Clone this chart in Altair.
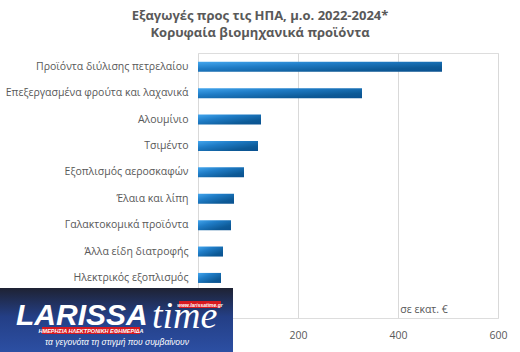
import altair as alt
import pandas as pd

products = [
    "Προϊόντα διύλισης πετρελαίου",
    "Επεξεργασμένα φρούτα και λαχανικά",
    "Αλουμίνιο",
    "Τσιμέντο",
    "Εξοπλισμός αεροσκαφών",
    "Έλαια και λίπη",
    "Γαλακτοκομικά προϊόντα",
    "Άλλα είδη διατροφής",
    "Ηλεκτρικός εξοπλισμός",
]
values = [488, 328, 126, 120, 92, 72, 66, 50, 46]
ticks = [0, 200, 400, 600]
title_lines = ["Εξαγωγές προς τις ΗΠΑ, μ.ο. 2022-2024*", "Κορυφαία βιομηχανικά προϊόντα"]
unit_label = "σε εκατ. €"

df = pd.DataFrame({"product": products, "value": values})

FONT = "Open Sans"
GREY = "#595959"

grad = alt.Gradient(
    gradient="linear",
    stops=[
        alt.GradientStop(color="#43a6ee", offset=0),
        alt.GradientStop(color="#1f7cc6", offset=0.35),
        alt.GradientStop(color="#0d5a97", offset=0.75),
        alt.GradientStop(color="#0a5190", offset=1),
    ],
    x1=0, y1=0, x2=1, y2=1,
)

base = alt.Chart(df)

bars = base.mark_bar(color=grad, cornerRadius=0).encode(
    x=alt.X(
        "value:Q",
        scale=alt.Scale(domain=[0, 600], nice=False),
        axis=alt.Axis(
            values=ticks, title=None, grid=True, gridColor="#d9d9d9", gridWidth=1,
            domain=False, ticks=False, labelFont=FONT, labelFontSize=10.5,
            labelColor=GREY, labelPadding=12, labelFlush=False,
            labelExpr="datum.value == 0 ? '' : datum.label",
        ),
    ),
    y=alt.Y(
        "product:N",
        sort=None,
        scale=alt.Scale(paddingInner=0.62, paddingOuter=0.83, align=0.2),
        axis=alt.Axis(
            title=None, domain=False, ticks=False, labelFont=FONT, labelFontSize=10.5,
            labelColor=GREY, labelPadding=10, labelLimit=300,
        ),
    ),
)

unit = alt.Chart(pd.DataFrame({"t": [unit_label]})).mark_text(
    font=FONT, fontSize=10.5, color=GREY, align="center", baseline="middle"
).encode(text="t:N", x=alt.value(226), y=alt.value(257))

# watermark logo overlay
logo_bg = alt.Chart(pd.DataFrame({"a": [0]})).mark_rect(
    color=alt.Gradient(
        gradient="linear",
        stops=[alt.GradientStop(color="#1e2233", offset=0),
               alt.GradientStop(color="#243f86", offset=0.45),
               alt.GradientStop(color="#2c4fa3", offset=1)],
        x1=0, y1=0, x2=0, y2=1,
    )
).encode(x=alt.value(-198), x2=alt.value(35), y=alt.value(235), y2=alt.value(299))

logo_red1 = alt.Chart(pd.DataFrame({"a": [0]})).mark_rect(color="#d71920").encode(
    x=alt.value(-156), x2=alt.value(-58), y=alt.value(274), y2=alt.value(281))
logo_red2 = alt.Chart(pd.DataFrame({"a": [0]})).mark_rect(color="#d71920").encode(
    x=alt.value(-19), x2=alt.value(23), y=alt.value(248), y2=alt.value(255))

logo_big = alt.Chart(pd.DataFrame({"t": ["LARISSA"]})).mark_text(
    font="Liberation Sans", fontSize=30, fontWeight="bold", fontStyle="italic",
    color="white", align="left", baseline="alphabetic"
).encode(text="t:N", x=alt.value(-182), y=alt.value(272))
logo_time = alt.Chart(pd.DataFrame({"t": ["time"]})).mark_text(
    font="Liberation Serif", fontSize=38, fontStyle="italic",
    color="white", align="left", baseline="alphabetic"
).encode(text="t:N", x=alt.value(-46), y=alt.value(275))
logo_small = alt.Chart(pd.DataFrame({"t": ["ΗΜΕΡΗΣΙΑ ΗΛΕΚΤΡΟΝΙΚΗ ΕΦΗΜΕΡΙΔΑ"]})).mark_text(
    font="Liberation Sans", fontSize=5.5, fontWeight="bold", fontStyle="italic",
    color="white", align="center", baseline="middle"
).encode(text="t:N", x=alt.value(-107), y=alt.value(277.5))
logo_www = alt.Chart(pd.DataFrame({"t": ["www.larissatime.gr"]})).mark_text(
    font="Liberation Sans", fontSize=5, fontWeight="bold", fontStyle="italic",
    color="white", align="center", baseline="middle"
).encode(text="t:N", x=alt.value(2), y=alt.value(251.5))
logo_sub = alt.Chart(pd.DataFrame({"t": ["τα γεγονότα τη στιγμή που συμβαίνουν"]})).mark_text(
    font="Liberation Sans", fontSize=8.5, fontStyle="italic",
    color="white", align="center", baseline="middle"
).encode(text="t:N", x=alt.value(-81), y=alt.value(289))

chart = alt.layer(
    bars, unit, logo_bg, logo_red1, logo_red2, logo_big, logo_time, logo_small, logo_www, logo_sub
).properties(
    width=300,
    height=265,
    title=alt.TitleParams(
        text=title_lines, font=FONT, fontSize=13, fontWeight="bold", color=GREY,
        anchor="middle", dx=-88, offset=13, lineHeight=17,
    ),
    autosize=alt.AutoSizeParams(type="none"),
    padding={"left": 198, "top": 53, "right": 22, "bottom": 34},
).configure_view(stroke=None).configure(background="white")

chart.save("out.html", embed_options={"renderer": "svg", "actions": False})
